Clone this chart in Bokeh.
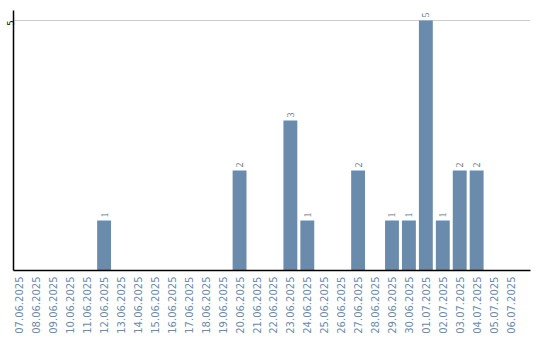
import numpy as np
from bokeh.plotting import figure
from bokeh.models import ColumnDataSource, FixedTicker, Range1d, LabelSet
from bokeh.embed import file_html
from bokeh.resources import INLINE

dates = ["07.06.2025", "08.06.2025", "09.06.2025", "10.06.2025", "11.06.2025",
         "12.06.2025", "13.06.2025", "14.06.2025", "15.06.2025", "16.06.2025",
         "17.06.2025", "18.06.2025", "19.06.2025", "20.06.2025", "21.06.2025",
         "22.06.2025", "23.06.2025", "24.06.2025", "25.06.2025", "26.06.2025",
         "27.06.2025", "28.06.2025", "29.06.2025", "30.06.2025", "01.07.2025",
         "02.07.2025", "03.07.2025", "04.07.2025", "05.07.2025", "06.07.2025"]
counts = [0, 0, 0, 0, 0,
          1, 0, 0, 0, 0,
          0, 0, 0, 2, 0,
          0, 3, 1, 0, 0,
          2, 0, 1, 1, 5,
          1, 2, 2, 0, 0]

xs = list(range(len(dates)))
src = ColumnDataSource(dict(x=xs, y=counts))
nz = [i for i, c in enumerate(counts) if c > 0]
lsrc = ColumnDataSource(dict(x=[xs[i] for i in nz], y=[counts[i] for i in nz],
                             t=[str(counts[i]) for i in nz]))

p = figure(width=540, height=340, output_backend="svg", toolbar_location=None,
           x_range=Range1d(-0.35, 30.18), y_range=Range1d(0, 5.2),
           min_border_left=11, min_border_right=10, min_border_top=10, min_border_bottom=70)
p.outline_line_color = None
p.background_fill_color = "white"

p.vbar(x="x", top="y", width=0.82, source=src, fill_color="#6a8bab", line_color=None)

labels = LabelSet(x="x", y="y", text="t", source=lsrc, angle=np.pi/2,
                  text_align="left", text_baseline="middle", y_offset=3,
                  text_font="DejaVu Sans", text_font_size="10px", text_color="#5f7186")
p.add_layout(labels)

p.xaxis.ticker = FixedTicker(ticks=xs)
p.xaxis.major_label_overrides = {i: d for i, d in enumerate(dates)}
p.xaxis.major_label_orientation = np.pi/2
p.xaxis.major_label_text_font = "DejaVu Sans"
p.xaxis.major_label_text_font_size = "10px"
p.xaxis.major_label_text_color = "#6a8bab"
p.xaxis.major_tick_line_color = None
p.xaxis.minor_tick_line_color = None
p.xaxis.major_tick_out = 0
p.xaxis.major_tick_in = 0
p.xaxis.minor_tick_out = 0
p.xaxis.axis_line_color = "black"
p.xaxis.axis_line_width = 1.5
p.xaxis.major_label_standoff = 6

p.yaxis.ticker = FixedTicker(ticks=[5])
p.yaxis.major_label_orientation = np.pi/2
p.yaxis.major_label_text_font = "DejaVu Sans"
p.yaxis.major_label_text_font_size = "8px"
p.yaxis.major_label_text_color = "black"
p.yaxis.major_tick_line_color = None
p.yaxis.minor_tick_line_color = None
p.yaxis.major_tick_out = 0
p.yaxis.major_tick_in = 0
p.yaxis.minor_tick_out = 0
p.yaxis.axis_line_color = "black"
p.yaxis.axis_line_width = 1.5
p.yaxis.major_label_standoff = 3

p.xgrid.grid_line_color = None
p.ygrid.grid_line_color = "#cccccc"
p.ygrid.ticker = FixedTicker(ticks=[5])

open("out.html", "w").write(file_html(p, INLINE))
